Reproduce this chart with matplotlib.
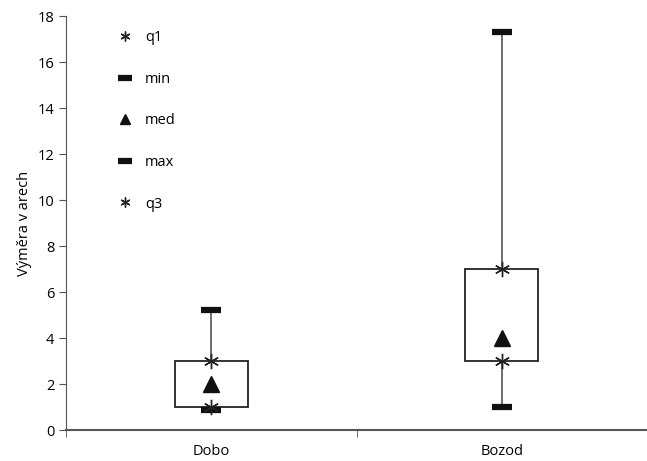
import numpy as np
import matplotlib.pyplot as plt

plt.rcParams['font.family'] = ['Open Sans', 'DejaVu Sans']

cats = ['Dobo', 'Bozod']
q1 = [1.0, 3.0]
vmin = [0.85, 1.0]
med = [2.0, 4.0]
vmax = [5.2, 17.3]
q3 = [3.0, 7.0]

x = np.arange(len(cats))

fig = plt.figure(figsize=(6.47, 4.61), dpi=100)
ax = fig.add_axes([66/647, 1 - 430/461, 581/647, 414/461])

# whiskers
ax.vlines(x, vmin, q1, color='#555555', lw=1.2, zorder=1)
ax.vlines(x, q3, vmax, color='#555555', lw=1.2, zorder=1)
# boxes
ax.bar(x, np.array(q3) - np.array(q1), bottom=q1, width=0.25,
       facecolor='white', edgecolor='#222222', lw=1.3, zorder=2)

ax.plot(x, q1, ls='none', marker=(6, 2, 0), ms=11, mec='#222222', mew=1, color='#222222', label='q1', zorder=4)
ax.plot(x, vmin, ls='none', marker='_', ms=15, mew=4.5, color='#111111', label='min', zorder=3)
ax.plot(x, med, ls='none', marker='^', ms=12, color='#111111', label='med', zorder=4)
ax.plot(x, vmax, ls='none', marker='_', ms=15, mew=4.5, color='#111111', label='max', zorder=3)
ax.plot(x, q3, ls='none', marker=(6, 2, 0), ms=11, mec='#222222', mew=1, color='#222222', label='q3', zorder=4)

leg = ax.legend(loc='upper left', bbox_to_anchor=(0.066, 0.997), frameon=False,
                labelspacing=1.82, handlelength=1.0, handletextpad=0.9,
                markerscale=0.65, fontsize=10.5)

ax.set_xlim(-0.5, 1.5)
ax.set_ylim(0, 18)
ax.set_yticks(np.arange(0, 19, 2))
ax.set_xticks(x)
ax.set_xticklabels(cats, fontsize=10.5)
ax.set_xticks([-0.5, 0.5, 1.5], minor=True)
ax.tick_params(axis='x', which='major', length=0, pad=10)
ax.tick_params(axis='x', which='minor', length=5, direction='out', color='#555555')
ax.tick_params(axis='y', length=5, direction='out', labelsize=10.5, color='#555555')
ax.set_ylabel('Výměra v arech', fontsize=10.5)

for s in ['top', 'right']:
    ax.spines[s].set_visible(False)
ax.spines['left'].set_color('#555555')
ax.spines['bottom'].set_color('#555555')
ax.spines['bottom'].set_linewidth(1.5)

fig.savefig('out.png', dpi=100)
